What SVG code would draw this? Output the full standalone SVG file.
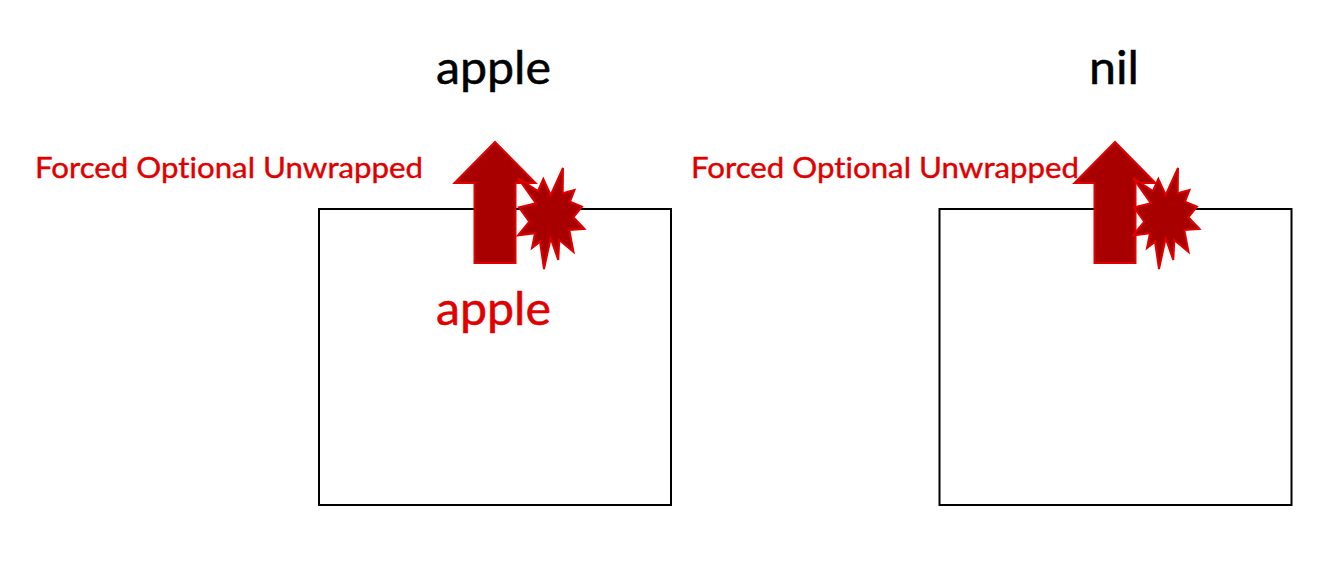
<svg xmlns="http://www.w3.org/2000/svg" width="1330" height="584" viewBox="0 0 1330 584">
<style>
text{font-family:Lato,"Liberation Sans",sans-serif;font-variant-ligatures:none;stroke-width:.5px}
.box{fill:#fff;stroke:#000;stroke-width:2}
.big{font-size:47px;fill:#000;stroke:#000}
.small{font-size:29.500px;fill:#e00000;stroke:#e00000;stroke-width:.4px}
.big.red{fill:#e00000;stroke:#e00000}
.sym{fill:#a80000;stroke:#e00000;stroke-width:2}
</style>
<defs>
<polygon id="arrow" points="65,12 105.500,53 85.500,53 85.500,133 44.500,133 44.500,53 24.500,53"/>
<polygon id="burst" points="88,48 108,61 113.300,49 120.700,65 133,38 132.700,63.300 144.500,60 140,71.700 152,76.700 143.300,87.300 154.500,99 139.300,100 143.500,122 129.300,110 128.300,130 120.700,108.300 114,139 110,111.700 102,118 105,103.300 88,105.500 99.300,91.700 89,77.300 106,73.300"/>
</defs>
<g id="left-box"><rect class="box" x="319" y="209" width="352" height="296"/></g>
<g id="right-box"><rect class="box" x="939.500" y="209" width="352" height="296"/></g>
<g id="left-title"><text class="big" x="436" y="84" textLength="115" lengthAdjust="spacingAndGlyphs">apple</text></g>
<g id="right-title"><text class="big" x="1089" y="84" textLength="50" lengthAdjust="spacingAndGlyphs">nil</text></g>
<g id="left-label"><text class="small" x="35" y="178" textLength="388" lengthAdjust="spacingAndGlyphs">Forced Optional Unwrapped</text></g>
<g id="right-label"><text class="small" x="691" y="178" textLength="388" lengthAdjust="spacingAndGlyphs">Forced Optional Unwrapped</text></g>
<g id="left-value"><text class="big red" x="436" y="325" textLength="115" lengthAdjust="spacingAndGlyphs">apple</text></g>
<g id="left-arrow"><use class="sym" href="#arrow" x="430" y="130"/></g>
<g id="left-burst"><use class="sym" href="#burst" x="430" y="130"/></g>
<g id="right-arrow"><use class="sym" href="#arrow" x="1050" y="130"/></g>
<g id="right-burst"><use class="sym" href="#burst" x="1045" y="130"/></g>
</svg>
